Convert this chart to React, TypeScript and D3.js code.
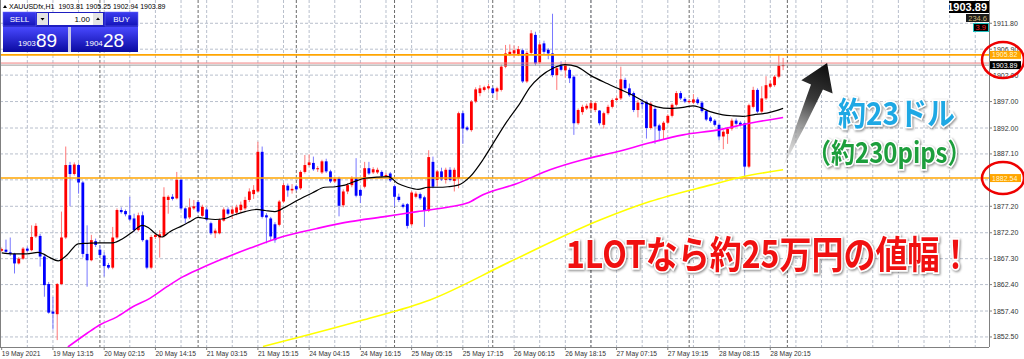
import React from 'react';
import * as d3 from 'd3';

const W = 1024;
const H = 359;

// ---- candle data (XAUUSD H1) ----
const OPEN = [
  1868.8,1869.0,1868.5,1868.2,1866.4,1867.3,1869.2,1868.9,1871.5,1871.6,
  1867.7,1862.5,1857.3,1856.8,1862.5,1871.3,1885.0,1883.3,1885.0,1881.7,
  1868.2,1867.0,1870.6,1869.0,1867.9,1866.1,1865.6,1871.3,1876.5,1876.3,
  1875.5,1874.9,1872.7,1875.5,1870.8,1865.6,1871.4,1871.3,1871.6,1878.4,
  1879.0,1878.7,1882.2,1876.8,1875.1,1876.8,1878.0,1875.4,1876.6,1874.0,
  1872.1,1872.1,1874.5,1876.6,1875.8,1876.0,1876.5,1876.8,1878.4,1879.5,
  1880.0,1887.5,1875.5,1874.9,1873.8,1873.7,1878.1,1881.1,1880.2,1881.0,
  1880.6,1883.7,1885.0,1885.4,1884.2,1883.6,1885.7,1883.8,1881.9,1882.5,
  1877.4,1880.0,1881.2,1882.5,1880.3,1880.9,1884.4,1883.6,1883.6,1883.7,
  1882.9,1883.4,1881.0,1879.0,1877.5,1877.6,1873.8,1879.0,1879.5,1878.9,
  1876.4,1885.6,1882.2,1883.8,1882.2,1884.1,1882.0,1882.5,1894.8,1892.1,
  1891.6,1897.0,1898.6,1899.2,1899.5,1899.5,1898.9,1899.2,1903.6,1905.9,
  1906.1,1906.0,1906.7,1900.8,1906.2,1909.6,1904.4,1908.0,1906.8,1906.1,
  1902.0,1904.0,1902.9,1903.0,1901.7,1892.9,1895.0,1895.7,1895.7,1895.4,
  1895.3,1892.6,1894.8,1896.0,1897.3,1897.6,1901.1,1899.5,1898.6,1895.4,
  1896.8,1896.9,1892.0,1895.6,1892.5,1891.6,1893.0,1894.3,1896.4,1898.6,
  1897.5,1896.9,1896.8,1897.4,1896.8,1895.2,1894.0,1893.4,1892.6,1890.4,
  1890.9,1891.9,1893.4,1893.0,1892.9,1884.7,1896.0,1899.2,1895.1,1897.6,
  1899.8,1900.1,1901.7,1903.81,
];
const HIGH = [
  1869.4,1870.9,1871.3,1868.4,1867.6,1869.5,1869.6,1873.6,1874.0,1872.0,
  1868.0,1862.9,1860.1,1862.7,1876.2,1888.5,1885.6,1885.5,1885.3,1882.0,
  1873.6,1871.8,1871.1,1869.8,1868.5,1866.5,1873.3,1876.8,1877.0,1876.6,
  1879.0,1875.8,1876.0,1876.2,1871.0,1871.8,1872.2,1872.7,1880.8,1879.3,
  1879.5,1883.7,1882.5,1877.0,1878.7,1878.4,1878.3,1877.5,1877.0,1874.3,
  1873.0,1874.9,1877.0,1877.0,1877.2,1877.5,1878.1,1879.0,1880.6,1881.2,
  1889.4,1888.5,1875.9,1875.2,1874.2,1878.4,1881.6,1881.5,1881.4,1881.3,
  1884.0,1886.9,1887.0,1886.6,1884.8,1886.0,1886.2,1884.1,1882.7,1882.8,
  1880.4,1881.6,1882.9,1886.3,1880.6,1885.6,1885.6,1884.6,1884.5,1884.0,
  1883.5,1883.7,1881.3,1879.6,1877.8,1877.8,1880.1,1880.0,1879.8,1879.2,
  1887.8,1886.6,1884.1,1884.5,1884.5,1884.6,1884.5,1895.1,1895.2,1892.4,
  1897.3,1899.7,1900.1,1900.0,1900.4,1899.8,1899.8,1904.0,1907.7,1907.8,
  1907.6,1907.5,1907.0,1906.6,1910.5,1910.2,1908.2,1908.5,1907.1,1913.6,
  1903.7,1904.6,1904.3,1903.4,1902.0,1895.7,1896.4,1896.6,1897.1,1897.0,
  1895.4,1895.1,1896.4,1897.6,1898.0,1903.6,1901.5,1900.4,1898.9,1897.3,
  1897.5,1897.2,1896.9,1896.0,1892.8,1893.3,1894.6,1896.7,1899.0,1899.0,
  1897.8,1897.5,1898.4,1897.8,1897.1,1895.5,1894.3,1893.7,1892.9,1891.6,
  1892.2,1893.8,1893.8,1893.3,1893.2,1896.6,1899.8,1899.5,1899.9,1901.8,
  1901.0,1902.0,1905.8,1905.25,
];
const LOW = [
  1868.6,1868.4,1867.8,1864.5,1866.2,1867.1,1868.5,1868.7,1871.2,1865.8,
  1860.1,1856.9,1853.9,1851.9,1862.3,1871.0,1877.2,1883.0,1879.6,1867.5,
  1862.0,1866.8,1869.5,1867.5,1863.9,1865.3,1865.3,1871.0,1875.8,1875.3,
  1874.4,1872.3,1872.4,1870.5,1865.3,1865.3,1871.0,1867.5,1871.3,1875.8,
  1878.3,1878.5,1876.5,1874.0,1874.8,1876.5,1875.9,1875.2,1874.4,1871.8,
  1871.2,1871.9,1874.3,1875.5,1874.8,1875.5,1875.9,1876.4,1878.0,1878.6,
  1879.8,1874.9,1870.2,1870.8,1870.3,1873.4,1877.8,1879.0,1879.6,1880.1,
  1880.3,1883.4,1884.7,1883.9,1883.7,1883.3,1883.5,1881.6,1881.6,1875.3,
  1877.0,1879.5,1880.8,1878.9,1877.8,1880.6,1883.1,1883.3,1883.3,1882.6,
  1882.6,1881.8,1877.1,1878.0,1876.8,1873.0,1873.5,1878.7,1878.4,1873.3,
  1876.1,1880.6,1881.0,1882.0,1881.5,1881.9,1880.0,1880.6,1889.0,1891.4,
  1891.3,1896.7,1898.0,1898.9,1899.2,1898.3,1897.3,1898.9,1903.3,1905.6,
  1905.3,1905.6,1900.5,1900.5,1905.9,1903.8,1904.1,1906.0,1905.0,1901.6,
  1899.2,1902.7,1901.5,1900.5,1890.7,1892.6,1894.5,1895.4,1895.3,1895.0,
  1892.5,1891.9,1894.5,1895.7,1897.0,1897.3,1899.2,1897.9,1895.0,1894.0,
  1895.5,1890.0,1891.7,1889.0,1889.5,1889.8,1892.7,1894.0,1896.1,1897.3,
  1896.7,1896.6,1896.5,1896.4,1894.9,1893.3,1893.0,1892.3,1889.7,1888.0,
  1889.0,1891.5,1892.5,1892.3,1882.8,1884.4,1895.7,1894.8,1894.8,1897.3,
  1899.5,1899.8,1901.4,1902.94,
];
const CLOSE = [
  1869.1,1868.6,1868.2,1866.4,1867.3,1869.2,1868.8,1871.4,1873.5,1867.7,
  1862.3,1857.1,1856.9,1862.5,1871.3,1885.0,1883.3,1885.1,1881.7,1868.2,
  1867.0,1870.8,1869.9,1868.0,1865.9,1865.6,1871.3,1876.5,1876.1,1875.7,
  1874.7,1872.7,1875.5,1870.8,1865.6,1871.4,1871.8,1871.9,1879.0,1879.0,
  1878.6,1882.2,1876.8,1874.9,1877.0,1877.2,1876.2,1877.1,1874.7,1872.1,
  1872.6,1874.6,1876.6,1875.8,1876.6,1877.0,1877.5,1878.4,1880.0,1880.3,
  1887.5,1875.2,1875.1,1871.5,1870.8,1878.1,1881.2,1880.2,1880.5,1880.4,
  1883.7,1885.0,1885.5,1884.2,1884.4,1885.7,1883.8,1881.9,1882.4,1877.3,
  1880.0,1881.2,1882.5,1879.2,1879.2,1884.4,1883.4,1884.2,1884.1,1882.9,
  1883.1,1882.1,1879.0,1878.4,1877.1,1873.5,1879.8,1879.6,1878.7,1876.4,
  1886.5,1880.9,1883.8,1882.3,1884.1,1882.2,1884.1,1894.8,1891.9,1891.7,
  1897.0,1899.3,1899.5,1899.7,1899.9,1898.6,1899.5,1903.6,1906.1,1906.4,
  1906.7,1906.9,1900.8,1906.2,1909.9,1904.2,1907.8,1906.4,1906.1,1902.0,
  1903.3,1903.0,1903.9,1901.4,1892.9,1895.4,1896.0,1896.2,1896.7,1896.7,
  1892.9,1894.8,1896.0,1897.3,1897.6,1901.2,1899.5,1898.2,1895.4,1896.8,
  1896.5,1892.0,1896.6,1892.3,1891.5,1893.0,1894.3,1896.4,1898.6,1897.6,
  1897.0,1897.1,1897.4,1896.7,1895.2,1893.6,1893.3,1892.6,1890.4,1891.3,
  1891.8,1893.4,1892.8,1892.6,1884.7,1896.3,1899.2,1895.1,1897.6,1900.1,
  1900.4,1901.7,1903.8,1903.89,
];

// ---- moving averages: [bar index, price] ----
const MA_SHORT: [number, number][] = [
  [0,1868.4],[2.6,1868.2],[5.9,1868.2],[8.5,1868.5],[9.7,1868.2],[11.3,1867.5],[13.2,1866.9],
  [15.3,1868.0],[17.9,1870.1],[20,1870.2],[23,1870.3],[26.1,1870.3],[28.4,1871.1],[30.7,1872.4],
  [32.9,1873.6],[34.3,1873.2],[35.9,1872.1],[37.5,1871.4],[39.4,1872.4],[42.2,1873.5],[44.1,1874.3],
  [46,1875.1],[47.6,1874.9],[50,1874.7],[52.3,1874.9],[54.6,1875.6],[57,1876.2],[59.8,1876.6],
  [61.7,1876.4],[64,1876.2],[66.3,1877.0],[69.4,1878.4],[72.7,1879.7],[75.7,1880.8],[78.1,1880.9],
  [80.4,1881.2],[82.7,1881.9],[85.1,1882.5],[87.9,1882.7],[90.5,1882.8],[92.8,1881.5],[95.1,1880.8],
  [97.5,1880.4],[99.8,1880.8],[102.2,1880.8],[104.5,1880.9],[106.9,1881.2],[109.7,1882.8],[112.7,1886.0],
  [115.1,1889.1],[118.3,1893.2],[121.4,1896.7],[123.7,1899.7],[126.1,1901.7],[129.1,1903.3],[131.9,1904.0],
  [134.7,1903.6],[137.8,1902.0],[141.8,1900.4],[144.8,1899.3],[147.8,1898.2],[151.1,1896.7],[153.5,1896.0],
  [156.5,1895.7],[159.6,1895.9],[161.9,1896.2],[163.5,1895.9],[165.9,1895.1],[168.9,1894.5],[171.3,1894.3],
  [173.6,1894.2],[176,1894.5],[179.2,1894.8],[183,1895.7],
];
const MA_MID: [number, number][] = [
  [15.5,1850.6],[20,1853.2],[23,1854.8],[27,1856.3],[30.7,1858.2],[34.7,1859.8],[38.7,1862.0],
  [42.5,1863.9],[46.4,1865.4],[58.2,1869.3],[65.9,1871.5],[73.8,1873.0],[81.6,1874.3],[89.3,1875.2],
  [97.3,1876.2],[105,1877.1],[109,1877.8],[112.7,1879.4],[120.7,1881.5],[128.4,1884.1],[136.1,1886.0],
  [144.1,1887.5],[151.8,1889.2],[159.6,1890.7],[167.5,1891.6],[175.2,1892.9],[183,1894.0],
];
const MA_LONG: [number, number][] = [
  [61.2,1850.7],[84.6,1855.7],[100.3,1859.5],[119,1866.7],[140.1,1874.6],[151.8,1878.1],
  [165.9,1881.2],[173.6,1882.8],[183,1884.1],
];

const PRICE_TICKS = [1911.8, 1906.9, 1902.0, 1897.0, 1892.0, 1887.1, 1882.2, 1877.2, 1872.2, 1867.3, 1862.4, 1857.4, 1852.5];
const TIME_LABELS = [
  '19 May 2021', '19 May 13:15', '20 May 02:15', '20 May 14:15', '21 May 03:15', '21 May 15:15',
  '24 May 04:15', '24 May 16:15', '25 May 05:15', '25 May 17:15', '26 May 06:15', '26 May 18:15',
  '27 May 07:15', '27 May 19:15', '28 May 08:15', '28 May 20:15',
];
const LABEL_EVERY = 12;
const GRID_EVERY = 6;
const DAY_STARTS = [23, 46, 69, 92, 115, 138, 161, 184];
const RESISTANCE = 1905.82;
const SUPPORT = 1882.54;
const BID = 1903.89;
const ASK = 1904.28;
const SYMBOL = 'XAUUSDfx,H1';

const PLOT_RIGHT = 989;
const PLOT_BOTTOM = 347;
const SANS = '"Liberation Sans", Arial, sans-serif';
const JP = '"Noto Sans CJK JP", "Noto Sans", sans-serif';

const fmt = (v: number) => v.toFixed(2);

export default function App() {
  const n = OPEN.length;
  const x = d3.scaleLinear().domain([0, n - 1]).range([1.7, 783.1]);
  const y = d3.scaleLinear().domain([1850.6, 1916.2]).range([PLOT_BOTTOM, 0]);
  const line = d3
    .line<[number, number]>()
    .x((d) => x(d[0]))
    .y((d) => y(d[1]))
    .curve(d3.curveMonotoneX);

  const gridIdx: number[] = [];
  for (let i = GRID_EVERY; x(i) < PLOT_RIGHT; i += GRID_EVERY) gridIdx.push(i);

  // arrow from the long MA up to the ask level
  const bx = x(n - 1) + 0.5, byy = y(MA_LONG[MA_LONG.length - 1][1]) - 4;
  const tx = x(n - 1) + 44, ty = y(ASK);
  const len = Math.hypot(tx - bx, ty - byy);
  const ux = (tx - bx) / len, uy = (ty - byy) / len;
  const nx = -uy, ny = ux;
  const hb = [tx - ux * 26, ty - uy * 26];
  const sh = 6.5, hh = 17;
  const p = (a: number[], k: number) => `${a[0] + nx * k},${a[1] + ny * k}`;
  const mid = [(bx + hb[0]) / 2, (byy + hb[1]) / 2];
  const arrowPath =
    `M${bx},${byy} Q${p(mid, sh * 0.75)} ${p(hb, sh)} L${p(hb, hh)} L${tx},${ty} L${p(hb, -hh)} L${p(hb, -sh)} Q${p(mid, -sh * 0.75)} ${bx},${byy} Z`;

  const glow = { paintOrder: 'stroke' as const, filter: 'drop-shadow(1px 1px 1px rgba(0,0,0,0.45))' };

  return (
    <div style={{ position: 'absolute', left: 0, top: 0, width: W, height: H, overflow: 'hidden', background: '#fff' }}>
      <svg width={W} height={H} style={{ display: 'block' }}>
        <defs>
          <clipPath id="plot">
            <rect x={0} y={0} width={PLOT_RIGHT} height={PLOT_BOTTOM} />
          </clipPath>
          <linearGradient id="priceGrad" x1="0" y1="0" x2="0" y2="1">
            <stop offset="0" stopColor="#4848ff" />
            <stop offset="1" stopColor="#0a0aa0" />
          </linearGradient>
          <linearGradient id="btnGrad" x1="0" y1="0" x2="0" y2="1">
            <stop offset="0" stopColor="#3c3cf0" />
            <stop offset="1" stopColor="#1414b8" />
          </linearGradient>
          <linearGradient id="arrowGrad" gradientUnits="userSpaceOnUse" x1={tx} y1={ty} x2={bx} y2={byy}>
            <stop offset="0" stopColor="#0c0c0c" />
            <stop offset="0.35" stopColor="#3a3a3a" />
            <stop offset="1" stopColor="#d8d8d8" stopOpacity="0.4" />
          </linearGradient>
        </defs>

        <rect x={0} y={0} width={W} height={H} fill="#fff" />

        {/* grid */}
        <g clipPath="url(#plot)">
          {PRICE_TICKS.map((t) => (
            <line key={'h' + t} x1={0} x2={PLOT_RIGHT} y1={y(t)} y2={y(t)} stroke="#b8bfcc" strokeDasharray="3,2" />
          ))}
          {gridIdx.map((i) => (
            <line key={'v' + i} x1={x(i)} x2={x(i)} y1={0} y2={PLOT_BOTTOM} stroke="#b8bfcc" strokeDasharray="3,2" />
          ))}
          {DAY_STARTS.map((i) => (
            <line key={'d' + i} x1={x(i)} x2={x(i)} y1={0} y2={PLOT_BOTTOM} stroke="#6a6a6a" strokeDasharray="3,2" />
          ))}
        </g>

        {/* candles */}
        <g clipPath="url(#plot)">
          {OPEN.map((o, i) => {
            const c = CLOSE[i];
            const up = c >= o;
            const top = y(Math.max(o, c));
            const bot = y(Math.min(o, c));
            return (
              <g key={i}>
                <line x1={x(i)} x2={x(i)} y1={y(HIGH[i])} y2={y(LOW[i])} stroke={up ? '#ff7878' : '#7878ff'} strokeWidth={1} />
                <rect x={x(i) - 1.4} y={top} width={2.8} height={Math.max(bot - top, 1)} fill={up ? '#ff0000' : '#0000ff'} />
              </g>
            );
          })}
        </g>

        {/* horizontal levels */}
        <g clipPath="url(#plot)">
          <line x1={0} x2={PLOT_RIGHT} y1={y(RESISTANCE)} y2={y(RESISTANCE)} stroke="#ffa500" strokeWidth={1.6} />
          <line x1={0} x2={PLOT_RIGHT} y1={y(SUPPORT)} y2={y(SUPPORT)} stroke="#ffa500" strokeWidth={1.6} />
          <line x1={0} x2={PLOT_RIGHT} y1={y(ASK)} y2={y(ASK)} stroke="#f08080" strokeWidth={1} />
          <line x1={0} x2={PLOT_RIGHT} y1={y(BID)} y2={y(BID)} stroke="#9a9a9a" strokeWidth={1} />
        </g>

        {/* moving averages */}
        <g clipPath="url(#plot)" fill="none">
          <path d={line(MA_LONG) || ''} stroke="#ffff00" strokeWidth={1.6} />
          <path d={line(MA_MID) || ''} stroke="#ff00ff" strokeWidth={1.6} />
          <path d={line(MA_SHORT) || ''} stroke="#000" strokeWidth={1.2} />
        </g>

        {/* frame */}
        <line x1={0.5} x2={0.5} y1={0} y2={PLOT_BOTTOM} stroke="#808080" />
        <line x1={0} x2={PLOT_RIGHT} y1={PLOT_BOTTOM + 0.5} y2={PLOT_BOTTOM + 0.5} stroke="#808080" />
        <line x1={PLOT_RIGHT + 0.5} x2={PLOT_RIGHT + 0.5} y1={0} y2={PLOT_BOTTOM} stroke="#808080" />

        {/* price axis */}
        {PRICE_TICKS.map((t) => (
          <g key={'pt' + t}>
            <line x1={PLOT_RIGHT} x2={PLOT_RIGHT + 3} y1={y(t)} y2={y(t)} stroke="#808080" />
            <text x={993} y={y(t) + 2.5} fontSize={7} fontFamily={SANS} fill="#333">{fmt(t)}</text>
          </g>
        ))}

        {/* time axis */}
        {TIME_LABELS.map((lab, k) => {
          const xi = x(k * LABEL_EVERY);
          return (
            <g key={'tl' + k}>
              <line x1={xi} x2={xi} y1={PLOT_BOTTOM} y2={PLOT_BOTTOM + 3} stroke="#808080" />
              <text x={xi} y={356} fontSize={6.7} fontFamily={SANS} fill="#333">{lab}</text>
            </g>
          );
        })}

        {/* price labels on axis */}
        <rect x={990} y={y(RESISTANCE) - 4} width={31} height={8} fill="#ffa500" />
        <text x={992} y={y(RESISTANCE) + 2.5} fontSize={7} fontFamily={SANS} fill="#fff8d0">{fmt(RESISTANCE)}</text>
        <rect x={990} y={y(BID) - 4} width={31} height={8} fill="#000" />
        <text x={992} y={y(BID) + 2.5} fontSize={7} fontFamily={SANS} fill="#fff">{fmt(BID)}</text>
        <rect x={990} y={y(SUPPORT) - 4} width={31} height={8} fill="#ffa500" />
        <text x={992} y={y(SUPPORT) + 2.5} fontSize={7} fontFamily={SANS} fill="#fff8d0">{fmt(SUPPORT)}</text>

        {/* top-right info boxes */}
        <rect x={949} y={1} width={40} height={12} fill="#000" />
        <text x={987} y={11} textAnchor="end" fontSize={11} fontWeight={700} fontFamily={SANS} fill="#fff">{fmt(BID)}</text>
        <rect x={966} y={14} width={23} height={8} fill="#1c1c1c" />
        <text x={987} y={20.5} textAnchor="end" fontSize={7.5} fontFamily={SANS} fill="#d2b878">234.6</text>
        <rect x={973.5} y={23.5} width={15} height={8} fill="#000" stroke="#20c0c0" />
        <text x={986} y={30} textAnchor="end" fontSize={7.5} fontFamily={SANS} fill="#ff2020">3.9</text>

        {/* header */}
        <path d="M3,8 L5,5 L7,8 Z" fill="#000" />
        <text x={9} y={8.5} fontSize={7} fontFamily={SANS} fill="#000" style={{ whiteSpace: 'pre' }}>
          {`${SYMBOL}  ${OPEN[n - 1].toFixed(2)} ${HIGH[n - 1].toFixed(2)} ${LOW[n - 1].toFixed(2)} ${CLOSE[n - 1].toFixed(2)}`}
        </text>

        {/* one-click trading panel */}
        <g fontFamily={SANS}>
          <rect x={3} y={12} width={135} height={40} fill="#1e1ec0" />
          <rect x={3} y={12} width={33} height={14} fill="url(#btnGrad)" stroke="#6a6aff" strokeWidth={0.5} />
          <text x={19.5} y={22} textAnchor="middle" fontSize={8} fill="#fff">SELL</text>
          <rect x={37} y={13} width={11} height={12} fill="#e4e4e4" />
          <path d="M40.5,18 L44.5,18 L42.5,20.5 Z" fill="#000" />
          <rect x={49} y={13} width={44} height={12} fill="#fff" />
          <text x={90} y={22} textAnchor="end" fontSize={8} fill="#000">1.00</text>
          <rect x={93} y={13} width={10} height={12} fill="#e4e4e4" />
          <path d="M96,20 L100,20 L98,17.5 Z" fill="#000" />
          <rect x={105} y={12} width={33} height={14} fill="url(#btnGrad)" stroke="#6a6aff" strokeWidth={0.5} />
          <text x={121.5} y={22} textAnchor="middle" fontSize={8} fill="#fff">BUY</text>
          <rect x={3} y={27} width={65} height={25} fill="url(#priceGrad)" />
          <rect x={71} y={27} width={67} height={25} fill="url(#priceGrad)" />
          <rect x={68} y={27} width={3} height={25} fill="#c8c8e8" />
          <text x={18} y={46} fontSize={8} fill="#fff">1903</text>
          <text x={36} y={46.5} fontSize={19} fill="#fff">89</text>
          <text x={85} y={46} fontSize={8} fill="#fff">1904</text>
          <text x={103} y={46.5} fontSize={19} fill="#fff">28</text>
        </g>

        {/* annotations */}
        <path d={arrowPath} fill="url(#arrowGrad)" />

        <g transform="translate(838,125) scale(1,1.12)">
          <text x={0} y={0} fontSize={28} fontWeight={700} fontFamily={JP} fill="#1ea8e4" stroke="#fff" strokeWidth={3} style={glow}>約23ドル</text>
        </g>
        <g transform="translate(807,163) scale(1,1.15)">
          <text x={0} y={0} fontSize={24} fontWeight={700} fontFamily={JP} fill="#1c9e3c" stroke="#fff" strokeWidth={3} style={glow}>（約230pips）</text>
        </g>
        <g transform="translate(566,268) scale(1,1.18)">
          <text x={0} y={0} fontSize={32} fontWeight={700} fontFamily={JP} fill="#f01010" stroke="#fff" strokeWidth={3} style={glow}>1LOTなら約25万円の値幅！</text>
        </g>

        {/* highlight ellipses */}
        <ellipse cx={1003} cy={y((RESISTANCE + BID) / 2)} rx={21} ry={18} fill="none" stroke="#ee0000" strokeWidth={2.5} />
        <ellipse cx={1003} cy={y(SUPPORT)} rx={21} ry={16} fill="none" stroke="#ee0000" strokeWidth={2.5} />
      </svg>
    </div>
  );
}
